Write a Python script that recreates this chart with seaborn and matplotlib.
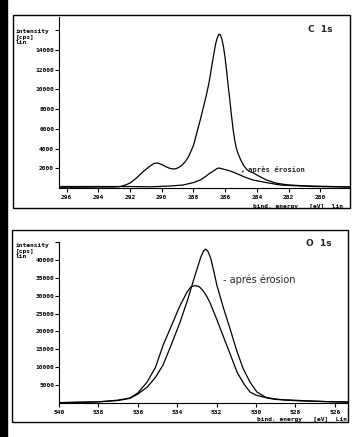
import numpy as np
import pandas as pd
import matplotlib
matplotlib.use("Agg")
import matplotlib.pyplot as plt
from matplotlib.patches import Rectangle
import seaborn as sns

# C 1s spectrum (binding energy eV, intensity cps)
c1s_energy = [296.4, 295.0, 294.0, 293.0, 292.6, 292.3, 292.0, 291.6, 291.2, 290.8,
              290.5, 290.3, 290.1, 289.9, 289.7, 289.5, 289.3, 289.1, 288.9, 288.7,
              288.5, 288.3, 288.0, 287.8, 287.6, 287.4, 287.2, 287.0, 286.85, 286.7,
              286.6, 286.5, 286.4, 286.3, 286.2, 286.1, 286.0, 285.9, 285.8, 285.7,
              285.6, 285.5, 285.4, 285.3, 285.2, 285.0, 284.8, 284.6, 284.4, 284.2,
              283.8, 283.4, 282.8, 282.1, 281.0, 280.0, 278.1]
c1s_before = [80, 80, 100, 100, 150, 300, 500, 1000, 1620, 2150,
              2480, 2540, 2450, 2300, 2130, 2000, 1930, 1960, 2100, 2350,
              2700, 3200, 4300, 5500, 6700, 8000, 9300, 10800, 12300, 13700,
              14600, 15200, 15600, 15550, 15100, 14300, 13200, 11800, 10300, 8900,
              7400, 6000, 4900, 4100, 3550, 2800, 2200, 1830, 1650, 1500,
              1150, 820, 500, 320, 220, 180, 100]

c1s_energy_after = [296.4, 294.0, 292.0, 290.7, 289.5, 288.66, 288.0, 287.58, 287.2, 286.95,
                    286.8, 286.64, 286.5, 286.38, 286.2, 285.95, 285.69, 285.5, 285.06,
                    284.75, 284.43, 284.24, 283.4, 282.5, 280.45, 278.1]
c1s_after = [150, 150, 150, 120, 200, 300, 550, 800, 1200, 1520,
             1650, 1830, 1980, 2030, 1950, 1850, 1730, 1620, 1320,
             1100, 910, 810, 550, 300, 150, 100]

# O 1s spectrum
o1s_energy_before = [540.0, 539.0, 538.0, 537.5, 537.0, 536.7, 536.4, 536.0, 535.53, 535.1,
                     534.72, 534.3, 533.86, 533.5, 533.3, 533.1, 532.9, 532.7, 532.5,
                     532.34, 532.0, 531.68, 531.3, 530.96, 530.6, 530.3, 530.0, 529.64,
                     529.0, 528.5, 527.77, 526.5, 525.3]
o1s_before = [100, 200, 350, 550, 800, 1100, 1400, 2800, 5830, 10000,
              16100, 21500, 27200, 31000, 32500, 32800, 32600, 31500, 29800,
              28100, 23500, 18900, 13500, 8600, 5200, 3050, 2200, 1670,
              1100, 800, 600, 400, 300]

o1s_energy_after = [540.0, 539.0, 538.0, 537.5, 537.0, 536.4, 536.0, 535.53, 535.1, 534.72,
                    534.3, 533.86, 533.45, 533.2, 532.99, 532.8, 532.65, 532.55, 532.45,
                    532.3, 532.15, 531.98, 531.65, 531.32, 531.0, 530.66, 530.3, 529.95,
                    529.44, 529.0, 527.77, 526.5, 525.3]
o1s_after = [100, 200, 320, 500, 700, 1300, 2500, 4400, 7200, 10600,
             16300, 22500, 29200, 33800, 37500, 40800, 42600, 43000, 42500,
             40500, 37000, 32800, 26500, 20800, 15000, 9700, 5800, 3050,
             1400, 1000, 700, 400, 200]

c1s_yticks = [2000, 4000, 6000, 8000, 10000, 12000, 14000, 16000]
c1s_xticks = [296, 294, 292, 290, 288, 286, 284, 282, 280]
o1s_yticks = [5000, 10000, 15000, 20000, 25000, 30000, 35000, 40000, 45000]
o1s_xticks = [540, 538, 536, 534, 532, 530, 528, 526]

sns.set_theme(style="white")
plt.rcParams["font.family"] = ["DejaVu Sans Mono", "DejaVu Sans"]

W, H = 358, 437
fig = plt.figure(figsize=(W / 100, H / 100), dpi=100)


def fx(px):
    return px / W


def fy(py):
    return 1 - py / H


mono = dict(family="DejaVu Sans Mono", fontsize=4.5, fontweight="bold", color="black")

# left black strip of the scan + outer frames
fig.add_artist(Rectangle((0, 0), fx(7), 1, transform=fig.transFigure, color="black", zorder=0))
fig.add_artist(Rectangle((fx(13), fy(208)), fx(337), 193 / H, transform=fig.transFigure,
                         fill=False, lw=1.0, ec="black"))
fig.add_artist(Rectangle((fx(12), fy(422)), fx(336), 192 / H, transform=fig.transFigure,
                         fill=False, lw=1.0, ec="black"))

ax1 = fig.add_axes([fx(59), fy(188), fx(291), 171 / H])
ax2 = fig.add_axes([fx(59), fy(403), fx(289), 161 / H])

top = pd.DataFrame({"E": c1s_energy, "I": c1s_before})
top_after = pd.DataFrame({"E": c1s_energy_after, "I": c1s_after})
sns.lineplot(data=top, x="E", y="I", ax=ax1, color="black", lw=0.9, estimator=None)
sns.lineplot(data=top_after, x="E", y="I", ax=ax1, color="black", lw=0.9, estimator=None)

bot_b = pd.DataFrame({"E": o1s_energy_before, "I": o1s_before})
bot_a = pd.DataFrame({"E": o1s_energy_after, "I": o1s_after})
sns.lineplot(data=bot_b, x="E", y="I", ax=ax2, color="black", lw=0.9, estimator=None)
sns.lineplot(data=bot_a, x="E", y="I", ax=ax2, color="black", lw=0.9, estimator=None)

ax1.set_xlim(296.48, 278.12)
ax1.set_ylim(0, 17350)
ax2.set_xlim(540.0, 525.33)
ax2.set_ylim(0, 44700)

for ax, yt, xt in [(ax1, c1s_yticks, c1s_xticks), (ax2, o1s_yticks, o1s_xticks)]:
    ax.set_facecolor("none")
    ax.spines["top"].set_visible(False)
    ax.spines["right"].set_visible(False)
    for s in ("left", "bottom"):
        ax.spines[s].set_color("black")
        ax.spines[s].set_linewidth(0.8)
    ax.set_xlabel("")
    ax.set_ylabel("")
    ax.set_yticks(yt)
    ax.set_yticklabels([str(v) for v in yt[:-1]] + [""], **mono)
    ax.set_xticks(xt)
    ax.set_xticklabels([str(v) for v in xt], **mono)
    ax.tick_params(axis="both", direction="out", length=3, width=0.8, color="black",
                   bottom=True, left=True)
    ax.tick_params(axis="y", pad=0.5)
    ax.tick_params(axis="x", pad=2)

# axis titles, one line at a time
for ytop in (32, 246):
    for k, line in enumerate(["intensity", "[cps]", "lin"]):
        fig.text(fx(16), fy(ytop + 5.5 * k), line, va="center", ha="left", **mono)
fig.text(fx(253), fy(206), "bind. energy   [eV]  lin", va="center", ha="left", **mono)
fig.text(fx(257), fy(419), "bind. energy   [eV]  Lin", va="center", ha="left", **mono)

# panel labels
fig.text(fx(308), fy(29), "C  1s", va="center", ha="left", fontsize=6.5,
         family="DejaVu Sans", fontweight="bold")
fig.text(fx(306), fy(243), "O  1s", va="center", ha="left", fontsize=6.5,
         family="DejaVu Sans", fontweight="bold")

# annotations
ax1.text(284.56, 1830, "après érosion", va="center", ha="left",
         family="DejaVu Sans Mono", fontsize=5.2, fontweight="bold")
ax1.annotate("", xy=(285.05, 1450), xytext=(284.7, 1900),
             arrowprops=dict(arrowstyle="-", lw=0.7, color="black"))
ax2.text(531.68, 34400, "- aprés érosion", va="center", ha="left",
         family="DejaVu Sans", fontsize=7)

fig.savefig("out.png", dpi=100, facecolor="white")
